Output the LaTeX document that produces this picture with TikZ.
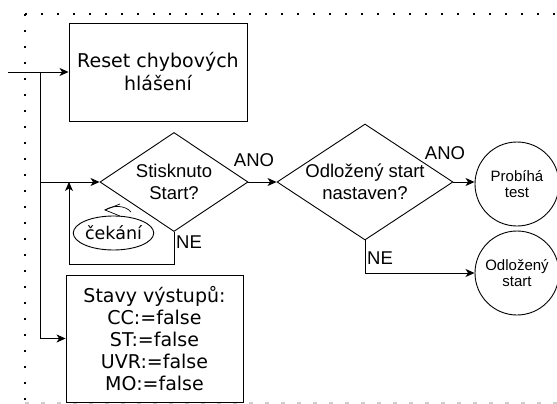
\documentclass[tikz,border=0pt]{standalone}
\usepackage{fontspec}
\setmainfont{DejaVu Sans}
\newfontfamily\arialf{Liberation Sans}
\newfontfamily\verdf{DejaVu Sans}
\usetikzlibrary{shapes.geometric,arrows.meta}
\begin{document}
\begin{tikzpicture}[x=1pt,y=-1pt,
  line width=0.9pt,
  arr/.style={-{Stealth[length=9pt,width=8pt,inset=2.5pt]}},
  boxv/.style={draw, rectangle, inner sep=0pt, align=center, font=\verdf\fontsize{19}{23}\selectfont},
  dia/.style={draw, diamond, inner sep=0pt},
  diatext/.style={align=center, font=\arialf\fontsize{18.5}{22}\selectfont},
  circ/.style={draw, circle, inner sep=0pt, minimum size=84pt, align=center, font=\arialf\fontsize{15}{16}\selectfont},
  lab/.style={font=\arialf\fontsize{18.5}{22}\selectfont, inner sep=0pt},
  dotb/.style={line width=2.2pt, dash pattern=on 2.2pt off 13.8pt},
]
\useasboundingbox (0,0) rectangle (557,404);
% dotted frame
\draw[dotb] (25,14) -- (557,14);
\draw[dotb] (25,14) -- (25,400);
\draw[line width=1.5pt, draw=black!20, dash pattern=on 4pt off 12pt] (25,403) -- (557,403);

% nodes
\node[boxv, minimum width=178pt, minimum height=98pt] (reset) at (158,72) {Reset chybových\\hlášení};
\node[dia, minimum width=148pt, minimum height=99pt,
  label={[diatext]center:Stisknuto\\Start?}] (d1) at (174,182) {};
\node[dia, minimum width=176pt, minimum height=116pt,
  label={[diatext]center:Odložený start\\nastaven?}] (d2) at (365,182) {};
\node[circ] (c1) at (517,184) {Probíhá\\test};
\node[circ] (c2) at (517,273) {Odložený\\start};
\node[draw, ellipse, minimum width=73pt, minimum height=34pt, inner sep=0pt,
  font=\verdf\fontsize{17.5}{20}\selectfont] (wait) at (113.5,233) {čekání};
\node[boxv, minimum width=177pt, minimum height=127pt, font=\verdf\fontsize{19}{22}\selectfont] (stavy) at (154.5,338.5)
  {Stavy výstupů:\\CC:=false\\ST:=false\\UVR:=false\\MO:=false};

% labels
\node[lab] (ano1) at (254,160) {ANO};
\node[lab] (ano2) at (445,153) {ANO};
\node[lab] (ne1) at (189,242) {NE};
\node[lab] (ne2) at (380,258) {NE};

% connectors
\coordinate (in) at (8,72);
\coordinate (j1) at (40,72);
\coordinate (j2) at (40,182);
\coordinate (lp) at (69,182);
\draw[arr] (in) -- (reset.west);
\draw[arr] (j1) |- (stavy.west);
\draw[arr] (j2) -- (d1.west);
\draw[arr] (d1.south) -- ++(0,32) -| (lp);
\draw[arr] (d1.east) -- (d2.west);
\draw[arr] (d2.east) -- (c1.west |- d2.east);
\draw[arr] (d2.south) |- (c2.west);

% small cycle arrow above "čekání"
\coordinate (wa) at (131,212);
\coordinate (wb) at (105,210);
\coordinate (wu) at (120,204);
\coordinate (wl) at (120,216);
\draw[line width=0.7pt] (wa) .. controls (125,205) and (113,205) .. (wb);
\draw[line width=0.7pt] (wu) -- (wb) -- (wl);
\end{tikzpicture}
\end{document}
